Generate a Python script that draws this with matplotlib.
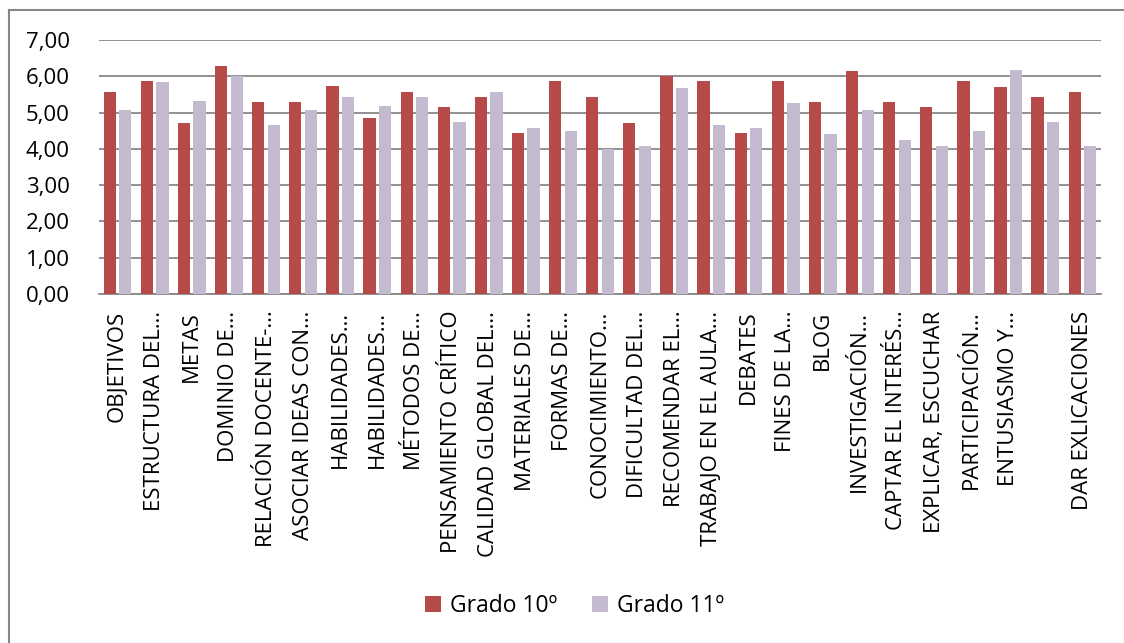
import numpy as np
import matplotlib.pyplot as plt
from matplotlib.lines import Line2D

plt.rcParams['font.family'] = ['Open Sans', 'DejaVu Sans']

categories = ['OBJETIVOS', 'ESTRUCTURA DEL…', 'METAS', 'DOMINIO DE…', 'RELACIÓN DOCENTE-…',
              'ASOCIAR IDEAS CON…', 'HABILIDADES…', 'HABILIDADES…', 'MÉTODOS DE…',
              'PENSAMIENTO CRÍTICO', 'CALIDAD GLOBAL DEL…', 'MATERIALES DE…', 'FORMAS DE…',
              'CONOCIMIENTO…', 'DIFICULTAD DEL…', 'RECOMENDAR EL…', 'TRABAJO EN EL AULA…',
              'DEBATES', 'FINES DE LA…', 'BLOG', 'INVESTIGACIÓN…', 'CAPTAR EL INTERÉS…',
              'EXPLICAR, ESCUCHAR', 'PARTICIPACIÓN…', 'ENTUSIASMO Y…', '', 'DAR EXLICACIONES']
grado10 = [5.57, 5.86, 4.71, 6.29, 5.29, 5.29, 5.72, 4.86, 5.57, 5.14, 5.43, 4.43, 5.86, 5.43,
           4.71, 6.00, 5.86, 4.43, 5.86, 5.29, 6.14, 5.29, 5.14, 5.86, 5.71, 5.43, 5.57]
grado11 = [5.08, 5.83, 5.33, 6.00, 4.67, 5.08, 5.42, 5.17, 5.42, 4.75, 5.58, 4.58, 4.50, 4.00,
           4.08, 5.67, 4.67, 4.58, 5.25, 4.42, 5.08, 4.25, 4.08, 4.50, 6.17, 4.75, 4.08]
y_ticks = [0, 1, 2, 3, 4, 5, 6, 7]

red = '#B54A48'
lilac = '#C4BAD0'
grid_c = '#888888'

fig = plt.figure(figsize=(11.24, 6.43), dpi=100)
ax = fig.add_axes([0.0881, 0.5428, 0.8915, 0.3950])

x = np.arange(len(categories))
w = 0.33
ax.bar(x - 0.21, grado10, w, color=red, label='Grado 10º', zorder=3)
ax.bar(x + 0.21, grado11, w, color=lilac, label='Grado 11º', zorder=3)

ax.set_xlim(-0.5, len(categories) - 0.5)
ax.set_ylim(0, 7)
ax.set_yticks(y_ticks)
ax.set_yticklabels([f'{v:.2f}'.replace('.', ',') for v in y_ticks], fontsize=16)
ax.yaxis.grid(True, color=grid_c, linewidth=1.3, zorder=0)
ax.set_axisbelow(True)

ax.set_xticks(x)
ax.set_xticklabels(categories, rotation=90, fontsize=16, va='top', ha='center')
ax.tick_params(axis='x', length=0, pad=12)
ax.tick_params(axis='y', length=0, pad=21)

for s in ['left', 'right', 'top']:
    ax.spines[s].set_visible(False)
ax.spines['bottom'].set_color(grid_c)
ax.spines['bottom'].set_linewidth(1.3)

ax.legend(loc='center', bbox_to_anchor=(0.511, 0.057), bbox_transform=fig.transFigure,
          ncol=2, frameon=False, fontsize=16.5, handlelength=0.7, handleheight=0.7,
          handletextpad=0.4, columnspacing=1.5)

# chart frame (only left and top edges show)
fig.add_artist(Line2D([9 / 1124, 9 / 1124], [0, 1 - 10 / 643], color=grid_c, linewidth=1.5))
fig.add_artist(Line2D([9 / 1124, 1], [1 - 10 / 643, 1 - 10 / 643], color=grid_c, linewidth=1.5))

fig.savefig('out.png', dpi=100)
